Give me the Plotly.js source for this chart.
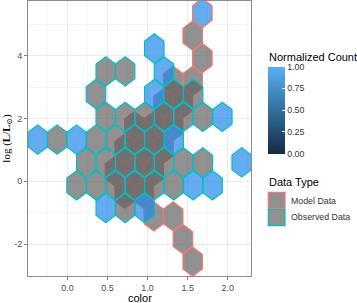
<!DOCTYPE html>
<html><head><meta charset="utf-8">
<script src="https://cdn.plot.ly/plotly-3.0.1.min.js"></script>
<style>html,body{margin:0;padding:0;background:#fff}#chart{width:357px;height:303px}</style>
</head><body><div id="chart"></div>
<script>
// ---- Observed Data: hexbin cell centres (color, log L) and normalized count (null = NA) ----
const obsX = [1.084,
  0.478, 0.720, 1.205,
  0.356, 1.084, 1.326, 1.569,
  0.478, 0.720, 0.963, 1.205, 1.448, 1.690, 1.933,
  -0.371, -0.129, 0.114, 0.356, 0.599, 0.841, 1.084, 1.326,
  0.235, 0.478, 0.720, 0.963, 1.205, 1.448, 1.690, 2.175,
  0.114, 0.356, 0.599, 0.841, 1.084, 1.326, 1.569, 1.811,
  0.478, 0.720, 0.963];
const obsY = [4.23,
  3.50, 3.50, 3.50,
  2.78, 2.78, 2.78, 2.78,
  2.05, 2.05, 2.05, 2.05, 2.05, 2.05, 2.05,
  1.33, 1.33, 1.33, 1.33, 1.33, 1.33, 1.33, 1.33,
  0.60, 0.60, 0.60, 0.60, 0.60, 0.60, 0.60, 0.60,
  -0.13, -0.13, -0.13, -0.13, -0.13, -0.13, -0.13, -0.13,
  -0.85, -0.85, -0.85];
const obsCount = [1,
  null, null, 1,
  null, 1, null, null,
  null, null, null, null, null, null, 1,
  1, null, 1, null, null, null, null, 1,
  null, null, null, null, null, null, null, 1,
  null, null, null, null, null, null, 1, 1,
  1, null, 1];

// ---- Model Data ----
const modX = [1.684, 1.563, 1.684, 1.320, 1.563, 1.199, 1.441,
  0.835, 1.078, 1.320, 0.714, 0.956, 1.199, 0.593, 0.835, 1.078,
  0.714, 0.956, 1.078, 1.320, 1.441, 1.563];
const modY = [5.36, 4.64, 3.92, 3.20, 3.20, 2.48, 2.48,
  1.76, 1.76, 1.76, 1.04, 1.04, 1.04, 0.32, 0.32, 0.32,
  -0.40, -0.40, -1.12, -1.12, -1.84, -2.56];
const modCount = [1, null, null, null, null, null, null,
  null, null, null, null, null, null, null, null, null,
  null, null, null, null, null, null];

// ---- ticks and labels ----
const xTickVals = [0, 0.5, 1, 1.5, 2];
const xTickText = ['0.0', '0.5', '1.0', '1.5', '2.0'];
const xMinorVals = [-0.25, 0.25, 0.75, 1.25, 1.75, 2.25];
const yTickVals = [-2, 0, 2, 4];
const yTickText = ['-2', '0', '2', '4'];
const yMinorVals = [-3, -1, 1, 3, 5];
const cbTickVals = [0, 0.25, 0.5, 0.75, 1];
const cbTickText = ['0.00', '0.25', '0.50', '0.75', '1.00'];
const seriesNames = ['Model Data', 'Observed Data'];
const xTitle = 'color';
const yTitle = 'log (<b>L</b>/<b>L</b><sub>⊙</sub>)';

// ---- styles ----
const HW = 0.12125, HV = 0.2333, HH = 0.4666;   // hexagon half width / edge / vertex
const NA_FILL = 'rgba(98,98,98,0.7)';
const HIGH_FILL = [34, 136, 234], LOW_FILL = [19, 43, 67];
const OUTLINE = {'Model Data': '#F8766D', 'Observed Data': '#00BFC4'};

function fillFor(v) {
  if (v === null) return NA_FILL;
  const c = LOW_FILL.map((l, i) => Math.round(l + (HIGH_FILL[i] - l) * v));
  return 'rgba(' + c.join(',') + ',0.7)';
}
function hexTraces(xs, ys, vals, name) {
  const groups = {};
  xs.forEach((cx, i) => {
    const key = fillFor(vals[i]);
    if (!groups[key]) groups[key] = {x: [], y: []};
    const cy = ys[i], g = groups[key];
    g.x.push(cx + HW, cx, cx - HW, cx - HW, cx, cx + HW, cx + HW, null);
    g.y.push(cy + HV, cy + HH, cy + HV, cy - HV, cy - HH, cy - HV, cy + HV, null);
  });
  return Object.keys(groups).map(k => ({
    type: 'scatter', mode: 'lines', x: groups[k].x, y: groups[k].y,
    fill: 'toself', fillcolor: k, line: {color: OUTLINE[name], width: 1.2},
    name: name, showlegend: false, hoverinfo: 'skip'
  }));
}

const traces = [
  ...hexTraces(modX, modY, modCount, seriesNames[0]),
  ...hexTraces(obsX, obsY, obsCount, seriesNames[1]),
  { type: 'scatter', mode: 'markers', x: [null], y: [null], showlegend: false, hoverinfo: 'skip',
    marker: { color: [0], cmin: 0, cmax: 1, colorscale: [[0, '#132B43'], [1, '#56B1F7']], showscale: true,
      colorbar: { x: 1.0776, xanchor: 'left', xpad: 0, y: 0.6036, yanchor: 'middle', ypad: 0,
        thickness: 17, len: 87, lenmode: 'pixels', outlinewidth: 0,
        tickvals: cbTickVals, ticktext: cbTickText, ticks: 'inside', ticklen: 3, tickcolor: '#fff',
        tickfont: {size: 8.8, color: '#333', family: 'Liberation Sans, Arial, sans-serif'} } } }
];

const L = 28, T = 1, PW = 223, PH = 275;
const px = v => (v - L) / PW, py = v => (T + PH - v) / PH;

const layout = {
  width: 357, height: 303,
  margin: {l: L, r: 357 - L - PW, t: T, b: 303 - T - PH},
  paper_bgcolor: '#fff', plot_bgcolor: '#fff', showlegend: false,
  font: {family: 'Liberation Sans, Arial, sans-serif', color: '#4D4D4D'},
  xaxis: {range: [-0.4925, 2.291], tickvals: xTickVals, ticktext: xTickText, ticks: 'outside', ticklen: 3,
    tickcolor: '#7f7f7f', tickfont: {size: 9, color: '#4D4D4D'}, showline: true, mirror: true,
    linecolor: '#8c8c8c', linewidth: 1, showgrid: true, gridcolor: '#EBEBEB', gridwidth: 1, zeroline: false,
    minor: {tickvals: xMinorVals, showgrid: true, gridcolor: '#F2F2F2', gridwidth: 0.8, ticks: ''},
    automargin: false},
  yaxis: {range: [-3.016, 5.742], tickvals: yTickVals, ticktext: yTickText, ticks: 'outside', ticklen: 3,
    tickcolor: '#7f7f7f', tickfont: {size: 9, color: '#4D4D4D'}, showline: true, mirror: true,
    linecolor: '#8c8c8c', linewidth: 1, showgrid: true, gridcolor: '#EBEBEB', gridwidth: 1, zeroline: false,
    minor: {tickvals: yMinorVals, showgrid: true, gridcolor: '#F2F2F2', gridwidth: 0.8, ticks: ''},
    title: {text: yTitle, font: {size: 11, color: '#000', family: 'Liberation Serif, DejaVu Serif, serif'}, standoff: 2},
    automargin: false},
  shapes: [
    {type: 'rect', xref: 'paper', yref: 'paper', x0: px(268.3), x1: px(285), y0: py(208.3), y1: py(192.3),
      fillcolor: NA_FILL, line: {color: OUTLINE['Model Data'], width: 1.2}},
    {type: 'rect', xref: 'paper', yref: 'paper', x0: px(268.3), x1: px(285), y0: py(225.7), y1: py(209.5),
      fillcolor: NA_FILL, line: {color: OUTLINE['Observed Data'], width: 1.2}}
  ],
  annotations: [
    {xref: 'paper', yref: 'paper', x: px(139.5), y: py(297.5), xanchor: 'center', yanchor: 'middle', showarrow: false,
      text: xTitle, font: {size: 11, color: '#000'}},
    {xref: 'paper', yref: 'paper', x: px(266.5), y: py(56.7), xanchor: 'left', yanchor: 'middle', showarrow: false,
      text: 'Normalized Count', font: {size: 11, color: '#000'}},
    {xref: 'paper', yref: 'paper', x: px(266.5), y: py(181.7), xanchor: 'left', yanchor: 'middle', showarrow: false,
      text: 'Data Type', font: {size: 11, color: '#000'}},
    {xref: 'paper', yref: 'paper', x: px(289), y: py(200.5), xanchor: 'left', yanchor: 'middle', showarrow: false,
      text: seriesNames[0], font: {size: 8.8, color: '#333'}},
    {xref: 'paper', yref: 'paper', x: px(289), y: py(217.3), xanchor: 'left', yanchor: 'middle', showarrow: false,
      text: seriesNames[1], font: {size: 8.8, color: '#333'}}
  ]
};

Plotly.newPlot('chart', traces, layout, {staticPlot: true, displayModeBar: false});
</script>
</body></html>
